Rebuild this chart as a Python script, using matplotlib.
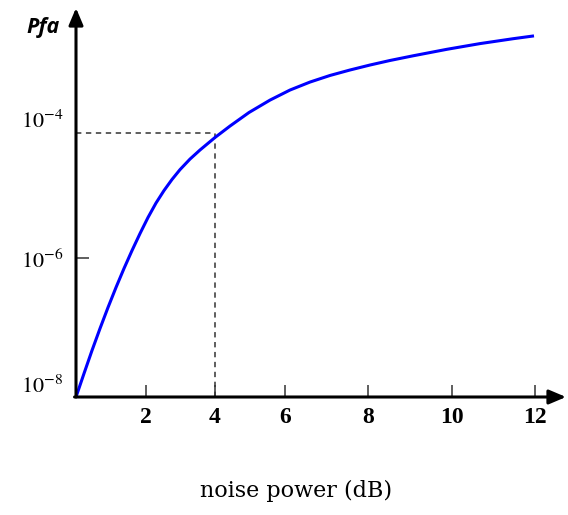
import numpy as np
import matplotlib
matplotlib.use("Agg")
import matplotlib.pyplot as plt
from matplotlib.ticker import NullLocator, FixedLocator

plt.rcParams['mathtext.fontset'] = 'stix'

# ---- data ----
noise_db = [0.0, 0.229, 0.457, 0.686, 0.914, 1.143, 1.371, 1.600, 1.829,
            2.058, 2.290, 2.522, 2.754, 2.986, 3.275, 3.565, 4.0, 4.429,
            4.971, 5.571, 6.120, 6.602, 7.084, 7.566, 8.048, 8.524, 9.071,
            9.881, 10.675, 11.470, 11.976]
pfa = [1e-8, 2.18e-8, 4.67e-8, 9.68e-8, 1.94e-7, 3.77e-7, 7.06e-7, 1.28e-6,
       2.25e-6, 3.83e-6, 6.18e-6, 9.35e-6, 1.35e-5, 1.87e-5, 2.65e-5,
       3.58e-5, 5.42e-5, 7.92e-5, 1.24e-4, 1.87e-4, 2.61e-4, 3.40e-4,
       4.23e-4, 5.07e-4, 5.98e-4, 6.95e-4, 8.11e-4, 1.007e-3, 1.216e-3,
       1.429e-3, 1.570e-3]
marker_db = 4.0
marker_pfa = 6.22e-5
x_ticks = [2, 4, 6, 8, 10, 12]
x_tick_labels = ['2', '4', '6', '8', '10', '12']
y_ticks = [1e-8, 1e-6, 1e-4]
y_tick_labels = [r'$10^{-8}$', r'$10^{-6}$', r'$10^{-4}$']

# uneven spacing of the printed x axis (knots for a function scale)
x_knots = [0, 2, 4, 6, 8, 10, 12, 14]
x_knot_pos = [76, 146, 215, 285, 368, 452, 535, 618]

def fwd(x):
    return np.interp(x, x_knots, x_knot_pos)

def inv(p):
    return np.interp(p, x_knot_pos, x_knots)

W, H = 568, 515
fig = plt.figure(figsize=(W / 100, H / 100), dpi=100)
left, right, bottom, top = 76, 566, 397, 8
ax = fig.add_axes([left / W, (H - bottom) / H, (right - left) / W, (bottom - top) / H])

ax.set_xscale('function', functions=(fwd, inv))
ax.set_yscale('log')
ax.set_xlim(0, 12 + (right - 535) / 41.5)
ax.set_ylim(1e-8, 10 ** (-8 + (bottom - top) / 69.5))

ax.plot(noise_db, pfa, color='#0000ff', lw=2.2, solid_capstyle='butt',
        solid_joinstyle='round', zorder=3)

ax.plot([0, marker_db], [marker_pfa, marker_pfa], ls=(0, (3.5, 3)), color='#333333', lw=1.1, zorder=2)
ax.plot([marker_db, marker_db], [1e-8, marker_pfa], ls=(0, (3.5, 3)), color='#333333', lw=1.1, zorder=2)

for s in ax.spines.values():
    s.set_visible(False)

# axis arrows
arrow_kw = dict(arrowstyle='-|>,head_length=0.85,head_width=0.36', lw=2.2,
                color='black', shrinkA=0, shrinkB=0, mutation_scale=12)
ax.annotate('', xy=(0, 1), xytext=(0, 0), xycoords='axes fraction',
            arrowprops=arrow_kw, annotation_clip=False)
ax.annotate('', xy=(1, 0), xytext=(-0.003, 0), xycoords='axes fraction',
            arrowprops=arrow_kw, annotation_clip=False)

ax.xaxis.set_major_locator(FixedLocator(x_ticks))
ax.xaxis.set_minor_locator(NullLocator())
ax.set_xticklabels(x_tick_labels, family='Liberation Serif', fontweight='bold', fontsize=17)
ax.tick_params(axis='x', direction='in', length=8.5, width=1.1, color='#333333', pad=7)

ax.yaxis.set_major_locator(FixedLocator(y_ticks))
ax.yaxis.set_minor_locator(NullLocator())
ax.set_yticklabels(y_tick_labels, fontsize=16)
ax.tick_params(axis='y', direction='in', length=9, width=1.1, color='#333333', pad=9)
yt = ax.yaxis.get_major_ticks()
yt[0].tick1line.set_visible(False)
yt[2].tick1line.set_visible(False)
yt[0].label1.set_verticalalignment('bottom')

fig.text(43 / W, 1 - 28 / H, 'Pfa', ha='center', va='center', family='Open Sans',
         fontweight='bold', style='italic', fontsize=15.5)
fig.text(296 / W, 1 - 491 / H, 'noise power (dB)', ha='center', va='center',
         family='DejaVu Serif', fontsize=16)

fig.savefig('out.png', dpi=100)
